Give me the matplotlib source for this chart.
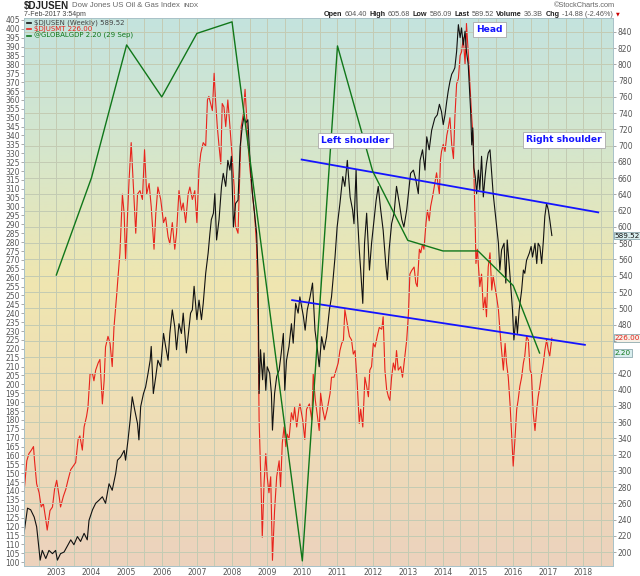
import matplotlib
matplotlib.use('Agg')
import matplotlib.pyplot as plt
import matplotlib.transforms as mtransforms
from matplotlib.lines import Line2D
from matplotlib.colors import LinearSegmentedColormap
import numpy as np

# $DJUSEN weekly close (right axis)
djusen_years = [
    2002.08, 2002.18, 2002.27, 2002.37, 2002.44, 2002.48, 2002.54, 2002.60, 2002.70, 2002.79,
    2002.89, 2002.98, 2003.03, 2003.12, 2003.22, 2003.31, 2003.41, 2003.50, 2003.60, 2003.69,
    2003.79, 2003.88, 2003.93, 2004.03, 2004.12, 2004.22, 2004.31, 2004.40, 2004.50, 2004.59,
    2004.69, 2004.74, 2004.83, 2004.93, 2004.97, 2005.04, 2005.10, 2005.16, 2005.23, 2005.31,
    2005.35, 2005.40, 2005.48, 2005.54, 2005.61, 2005.67, 2005.70, 2005.76, 2005.83, 2005.89,
    2005.97, 2006.05, 2006.11, 2006.18, 2006.23, 2006.30, 2006.37, 2006.42, 2006.49, 2006.56,
    2006.61, 2006.70, 2006.76, 2006.82, 2006.87, 2006.92, 2007.00, 2007.06, 2007.13, 2007.18,
    2007.25, 2007.32, 2007.37, 2007.41, 2007.47, 2007.51, 2007.56, 2007.63, 2007.70, 2007.75,
    2007.82, 2007.88, 2007.94, 2007.98, 2008.04, 2008.10, 2008.17, 2008.23, 2008.29, 2008.34,
    2008.39, 2008.45, 2008.51, 2008.58, 2008.64, 2008.70, 2008.74, 2008.77, 2008.81, 2008.87,
    2008.91, 2008.96, 2009.00, 2009.07, 2009.12, 2009.15, 2009.21, 2009.27, 2009.34, 2009.40,
    2009.46, 2009.50, 2009.55, 2009.62, 2009.69, 2009.74, 2009.81, 2009.88, 2009.93, 2010.03,
    2010.08, 2010.14, 2010.22, 2010.29, 2010.36, 2010.43, 2010.48, 2010.55, 2010.62, 2010.69,
    2010.77, 2010.83, 2010.88, 2010.93, 2010.99, 2011.07, 2011.15, 2011.21, 2011.28, 2011.36,
    2011.43, 2011.47, 2011.53, 2011.56, 2011.62, 2011.66, 2011.72, 2011.77, 2011.83, 2011.91,
    2011.97, 2012.04, 2012.10, 2012.16, 2012.23, 2012.30, 2012.38, 2012.42, 2012.47, 2012.54,
    2012.61, 2012.68, 2012.76, 2012.83, 2012.89, 2012.97, 2013.02, 2013.08, 2013.16, 2013.23,
    2013.30, 2013.35, 2013.42, 2013.49, 2013.54, 2013.61, 2013.68, 2013.77, 2013.84, 2013.90,
    2013.96, 2014.01, 2014.06, 2014.11, 2014.15, 2014.20, 2014.25, 2014.30, 2014.34, 2014.39,
    2014.44, 2014.49, 2014.53, 2014.58, 2014.63, 2014.67, 2014.72, 2014.75, 2014.79, 2014.82,
    2014.85, 2014.88, 2014.92, 2014.96, 2015.01, 2015.05, 2015.10, 2015.15, 2015.20, 2015.24,
    2015.29, 2015.34, 2015.39, 2015.43, 2015.51, 2015.58, 2015.62, 2015.67, 2015.74, 2015.79,
    2015.83, 2015.89, 2015.93, 2015.98, 2016.02, 2016.08, 2016.12, 2016.17, 2016.24, 2016.29,
    2016.33, 2016.38, 2016.46, 2016.51, 2016.55, 2016.62, 2016.67, 2016.71, 2016.76, 2016.81,
    2016.86, 2016.90, 2016.95, 2017.00, 2017.04, 2017.10,
]
djusen_vals = [
    223, 254, 252, 243, 231, 215, 190, 202, 192, 202,
    198, 202, 190, 198, 200, 207, 215, 209, 219, 213,
    223, 215, 239, 252, 260, 264, 268, 260, 284, 276,
    297, 313, 317, 325, 313, 338, 362, 391, 375, 358,
    338, 379, 395, 403, 420, 436, 453, 395, 416, 436,
    428, 469, 453, 436, 469, 498, 477, 449, 481, 469,
    494, 445, 469, 494, 498, 527, 486, 510, 486, 506,
    543, 568, 592, 609, 617, 641, 584, 609, 650, 666,
    650, 682, 670, 687, 600, 629, 633, 699, 723, 736,
    728, 732, 682, 641, 617, 592, 543, 395, 449, 412,
    445, 399, 428, 420, 395, 350, 395, 416, 424, 445,
    469, 399, 436, 453, 481, 457, 506, 494, 514, 490,
    473, 498, 514, 531, 473, 449, 428, 465, 449, 465,
    498, 514, 539, 563, 600, 629, 662, 650, 682, 637,
    621, 604, 670, 621, 572, 547, 506, 580, 617, 547,
    580, 609, 633, 650, 621, 596, 551, 535, 572, 604,
    617, 650, 629, 609, 600, 621, 641, 666, 670, 658,
    641, 682, 695, 670, 711, 695, 719, 734, 738, 751,
    742, 726, 738, 755, 767, 779, 788, 792, 796, 816,
    849, 833, 845, 824, 841, 816, 800, 775, 742, 701,
    722, 673, 662, 641, 670, 646, 687, 637, 662, 678,
    691, 695, 666, 641, 609, 580, 547, 572, 580, 531,
    584, 551, 527, 498, 461, 490, 469, 498, 522, 547,
    543, 559, 568, 576, 563, 580, 555, 580, 576, 555,
    584, 613, 629, 621, 609, 589.52,
]

# $DJUSMT (left axis)
djusmt_years = [
    2002.08, 2002.16, 2002.22, 2002.29, 2002.35, 2002.38, 2002.44, 2002.51, 2002.57, 2002.63,
    2002.70, 2002.74, 2002.82, 2002.89, 2002.95, 2003.01, 2003.08, 2003.12, 2003.20, 2003.27,
    2003.33, 2003.41, 2003.48, 2003.55, 2003.62, 2003.67, 2003.74, 2003.79, 2003.86, 2003.90,
    2003.96, 2004.03, 2004.07, 2004.12, 2004.19, 2004.24, 2004.31, 2004.36, 2004.40, 2004.47,
    2004.53, 2004.59, 2004.64, 2004.72, 2004.75, 2004.81, 2004.88, 2004.93, 2004.97, 2005.02,
    2005.07, 2005.13, 2005.19, 2005.26, 2005.31, 2005.38, 2005.45, 2005.51, 2005.57, 2005.64,
    2005.70, 2005.78, 2005.83, 2005.89, 2005.97, 2006.05, 2006.11, 2006.18, 2006.23, 2006.30,
    2006.37, 2006.42, 2006.49, 2006.56, 2006.61, 2006.68, 2006.75, 2006.80, 2006.87, 2006.94,
    2007.00, 2007.06, 2007.11, 2007.18, 2007.25, 2007.30, 2007.34, 2007.39, 2007.44, 2007.49,
    2007.53, 2007.58, 2007.63, 2007.68, 2007.72, 2007.77, 2007.82, 2007.88, 2007.94, 2008.01,
    2008.06, 2008.10, 2008.17, 2008.23, 2008.26, 2008.32, 2008.37, 2008.42, 2008.45, 2008.51,
    2008.58, 2008.64, 2008.70, 2008.74, 2008.77, 2008.81, 2008.83, 2008.86, 2008.91, 2008.96,
    2009.00, 2009.05, 2009.10, 2009.15, 2009.21, 2009.27, 2009.34, 2009.38, 2009.43, 2009.48,
    2009.53, 2009.57, 2009.62, 2009.69, 2009.74, 2009.78, 2009.84, 2009.90, 2009.93, 2010.01,
    2010.07, 2010.12, 2010.20, 2010.27, 2010.31, 2010.37, 2010.43, 2010.48, 2010.52, 2010.58,
    2010.64, 2010.71, 2010.79, 2010.83, 2010.90, 2010.96, 2011.02, 2011.07, 2011.12, 2011.17,
    2011.21, 2011.28, 2011.34, 2011.40, 2011.45, 2011.50, 2011.56, 2011.62, 2011.66, 2011.72,
    2011.78, 2011.83, 2011.88, 2011.92, 2011.97, 2012.02, 2012.07, 2012.13, 2012.19, 2012.26,
    2012.30, 2012.35, 2012.40, 2012.45, 2012.49, 2012.54, 2012.59, 2012.64, 2012.68, 2012.73,
    2012.80, 2012.85, 2012.92, 2012.97, 2013.02, 2013.06, 2013.11, 2013.18, 2013.23, 2013.27,
    2013.33, 2013.37, 2013.42, 2013.46, 2013.52, 2013.56, 2013.61, 2013.65, 2013.71, 2013.77,
    2013.82, 2013.87, 2013.90, 2013.93, 2013.96, 2014.01, 2014.06, 2014.11, 2014.15, 2014.20,
    2014.25, 2014.30, 2014.34, 2014.39, 2014.44, 2014.49, 2014.53, 2014.58, 2014.63, 2014.66,
    2014.67, 2014.72, 2014.77, 2014.82, 2014.86, 2014.89, 2014.92, 2014.94, 2014.98, 2015.02,
    2015.05, 2015.10, 2015.15, 2015.20, 2015.24, 2015.29, 2015.34, 2015.39, 2015.43, 2015.48,
    2015.53, 2015.58, 2015.62, 2015.67, 2015.72, 2015.77, 2015.81, 2015.86, 2015.91, 2015.95,
    2016.00, 2016.05, 2016.10, 2016.14, 2016.19, 2016.24, 2016.29, 2016.33, 2016.38, 2016.43,
    2016.48, 2016.52, 2016.57, 2016.62, 2016.67, 2016.71, 2016.76, 2016.81, 2016.86, 2016.90,
    2016.95, 2017.00, 2017.04, 2017.10,
]
djusmt_vals = [
    139, 157, 161, 163, 165, 157, 144, 139, 131, 133,
    124, 118, 129, 131, 141, 146, 137, 131, 137, 141,
    146, 152, 154, 156, 169, 171, 163, 176, 182, 187,
    206, 206, 202, 208, 212, 214, 189, 202, 221, 227,
    223, 210, 232, 251, 259, 274, 307, 296, 270, 292,
    315, 336, 313, 285, 307, 309, 304, 332, 307, 313,
    300, 276, 296, 311, 304, 291, 294, 283, 279, 291,
    276, 285, 309, 298, 302, 291, 307, 311, 304, 309,
    291, 321, 330, 336, 334, 360, 362, 358, 354, 375,
    360, 345, 334, 324, 358, 356, 345, 360, 345, 326,
    311, 289, 285, 326, 345, 352, 366, 349, 336, 321,
    307, 296, 277, 236, 180, 154, 139, 114, 144, 161,
    148, 139, 148, 101, 129, 148, 157, 142, 167, 176,
    165, 172, 169, 184, 180, 187, 176, 186, 189, 180,
    169, 186, 189, 180, 206, 191, 182, 174, 195, 186,
    180, 186, 195, 204, 204, 208, 212, 219, 223, 225,
    242, 234, 227, 225, 217, 219, 201, 178, 186, 176,
    204, 199, 193, 208, 210, 223, 221, 227, 232, 231,
    238, 208, 197, 193, 191, 204, 212, 208, 219, 208,
    210, 204, 216, 225, 240, 262, 264, 266, 257, 255,
    276, 274, 279, 276, 291, 298, 292, 300, 306, 313,
    319, 311, 307, 326, 331, 335, 331, 340, 344, 350,
    335, 327, 350, 369, 372, 385, 387, 395, 380, 395,
    403, 387, 369, 350, 339, 312, 289, 268, 276, 264,
    255, 262, 242, 249, 238, 266, 274, 253, 261, 255,
    249, 242, 231, 219, 208, 223, 212, 204, 189, 174,
    154, 169, 186, 191, 199, 204, 212, 216, 227, 225,
    208, 206, 184, 174, 186, 193, 199, 206, 212, 219,
    225, 219, 216, 226,
]

# @GLOBALGDP (own hidden scale)
gdp_years = [2003.0, 2004.0, 2005.0, 2006.0, 2007.0, 2008.0, 2010.0,
             2011.0, 2012.0, 2013.0, 2014.0, 2015.0, 2016.0, 2016.75]
gdp_vals = [3.01, 4.02, 5.40, 4.86, 5.52, 5.64, 0.04,
            5.39, 4.09, 3.37, 3.26, 3.26, 2.90, 2.20]

# hand drawn trend lines (in $DJUSEN units)
upper_line_years = [2009.98, 2018.42]
upper_line_vals = [683, 618]
lower_line_years = [2009.71, 2018.04]
lower_line_vals = [510, 455]

year_ticks = list(range(2003, 2019))
left_ticks = list(range(100, 406, 5))
right_ticks = list(range(200, 841, 20))
hidden_right_labels = [440, 460]   # covered by the value tags in the original

W, H = 640, 576
HEAD_FONT = ['Liberation Sans', 'DejaVu Sans']


def fx(px):
    return px / W


def fy(py):
    return 1 - py / H


fig = plt.figure(figsize=(6.4, 5.76), dpi=100)
fig.patch.set_facecolor('white')
ax = fig.add_axes([fx(24), fy(566), fx(613) - fx(24), fy(18) - fy(566)])
ax2 = ax.twinx()
ax3 = ax.twinx()

xlim = (2002.08, 2018.84)
ax.set_xlim(*xlim)
ax.set_ylim(97.8, 406.1)
ax2.set_ylim(182.8, 857.2)
ax3.set_ylim(-0.013, 5.68)

# background gradient
bg = LinearSegmentedColormap.from_list('bg', [
    (0.0, '#c4e3de'), (0.24, '#d5e6cc'), (0.48, '#efe6b0'),
    (0.70, '#efdfb6'), (1.0, '#ecd2bd')])
grad = np.linspace(0, 1, 256).reshape(-1, 1)
ax.imshow(grad, aspect='auto', cmap=bg, extent=[xlim[0], xlim[1], 97.8, 406.1],
          zorder=0, interpolation='bilinear')

grid_col = '#c3cbb3'
for gx in np.arange(2002.5, 2018.6, 0.5):
    ax.axvline(gx, color=grid_col, lw=0.7, zorder=1)
for gy in right_ticks:
    ax2.axhline(gy, color=grid_col, lw=0.7, zorder=0)

ax.plot(djusmt_years, djusmt_vals, color='#e8231c', lw=0.8, zorder=3)
ax2.plot(djusen_years, djusen_vals, color='#111111', lw=0.8, zorder=3)
ax3.plot(gdp_years, gdp_vals, color='#10771a', lw=1.0, zorder=3)
ax2.plot(upper_line_years, upper_line_vals, color='#1414ff', lw=1.3, zorder=4)
ax2.plot(lower_line_years, lower_line_vals, color='#1414ff', lw=1.3, zorder=4)

# axes styling
ax.set_xticks(year_ticks)
ax.set_xticklabels([str(y) for y in year_ticks])
ax.tick_params(axis='x', length=0, pad=1.5, labelsize=5.5, labelcolor='#555555')
ax.set_yticks(left_ticks)
ax.tick_params(axis='y', length=2, width=0.5, pad=1, labelsize=5.5,
               labelcolor='#555555', color='#888888')
ax2.set_yticks(right_ticks)
ax2.set_yticklabels(['' if t in hidden_right_labels else str(t) for t in right_ticks])
ax2.tick_params(axis='y', length=2, width=0.5, pad=1.5, labelsize=5.5,
                labelcolor='#555555', color='#888888')
ax3.set_yticks([])
for a in (ax, ax2, ax3):
    for s in a.spines.values():
        s.set_color('#a9c2c8')
        s.set_linewidth(0.6)
ax2.spines['right'].set_linestyle(':')

# value tags on the right edge
tag_kw = dict(fontsize=5.2, va='center', ha='left', zorder=10, clip_on=False)
trans2 = mtransforms.blended_transform_factory(ax2.transAxes, ax2.transData)
ax2.text(1.003, djusen_vals[-1], f'{djusen_vals[-1]:.2f}', transform=trans2,
         color='#111111', **tag_kw,
         bbox=dict(boxstyle='square,pad=0.12', fc='#d9eeee', ec='#7a9aa0', lw=0.5))
trans1 = mtransforms.blended_transform_factory(ax.transAxes, ax.transData)
ax.text(1.003, djusmt_vals[-1], f'{djusmt_vals[-1]:.2f}', transform=trans1,
        color='#e0201a', **tag_kw,
        bbox=dict(boxstyle='square,pad=0.12', fc='#f6f0e6', ec='#7a9aa0', lw=0.5))
trans3 = mtransforms.blended_transform_factory(ax3.transAxes, ax3.transData)
ax3.text(1.003, gdp_vals[-1], f'{gdp_vals[-1]:.2f}', transform=trans3,
         color='#10771a', **tag_kw,
         bbox=dict(boxstyle='square,pad=0.12', fc='#d9eeee', ec='#7a9aa0', lw=0.5))

# pattern labels
lab_kw = dict(fontsize=6.6, color='#1414ff', fontweight='bold', va='center', ha='left',
              bbox=dict(boxstyle='square,pad=0.35', fc='white', ec='#aaaaaa', lw=0.6))
fig.text(fx(476), fy(29.5), 'Head', **lab_kw)
fig.text(fx(321), fy(140.5), 'Left shoulder', **lab_kw)
fig.text(fx(526), fy(140), 'Right shoulder', **lab_kw)

# legend inside the plot
legend_rows = [('$DJUSEN (Weekly) 589.52', '#111111', 22.5),
               ('$DJUSMT 226.00', '#e8231c', 29.0),
               ('@GLOBALGDP 2.20 (29 Sep)', '#10771a', 35.5)]
for txt, col, py in legend_rows:
    fig.add_artist(Line2D([fx(27), fx(31)], [fy(py), fy(py)], color=col, lw=1.2,
                          transform=fig.transFigure))
    fig.text(fx(34), fy(py), txt, fontsize=5.0, color='#444444' if col == '#111111' else col,
             va='center', ha='left')

renderer = fig.canvas.get_renderer()


def text_run(items, x0, py, gap):
    # lay pieces out left to right so they never run into each other
    x = x0
    for txt, size, bold, col in items:
        t = fig.text(fx(x), fy(py), txt, fontsize=size, family=HEAD_FONT,
                     fontweight='bold' if bold else 'normal', color=col,
                     va='center', ha='left')
        x = t.get_window_extent(renderer).x1 + gap
    return x


# header
text_run([('$DJUSEN', 7.0, True, '#222222'),
          ('Dow Jones US Oil & Gas Index', 5.6, False, '#666666'),
          ('INDX', 4.6, False, '#555555')], 24, 5.8, 3)
fig.text(fx(24), fy(14.3), '7-Feb-2017 3:54pm', fontsize=5.0, family=HEAD_FONT,
         color='#444444', va='center', ha='left')
fig.text(fx(615), fy(5.5), '\u00a9StockCharts.com', fontsize=5.3, family=HEAD_FONT,
         color='#666666', va='center', ha='right')

header_items = [('Open', True), ('604.40', False), ('High', True), ('605.68', False),
                ('Low', True), ('586.09', False), ('Last', True), ('589.52', False),
                ('Volume', True), ('36.3B', False), ('Chg', True), ('-14.88 (-2.46%)', False)]
end_x = text_run([(t, 5.2, b, '#222222' if b else '#555555') for t, b in header_items],
                 324, 14.3, 2.3)
fig.text(fx(end_x + 1.5), fy(14.3), '\u25bc', fontsize=3.5, color='#cc0000',
         va='center', ha='left')

fig.savefig('out.png', dpi=100)
